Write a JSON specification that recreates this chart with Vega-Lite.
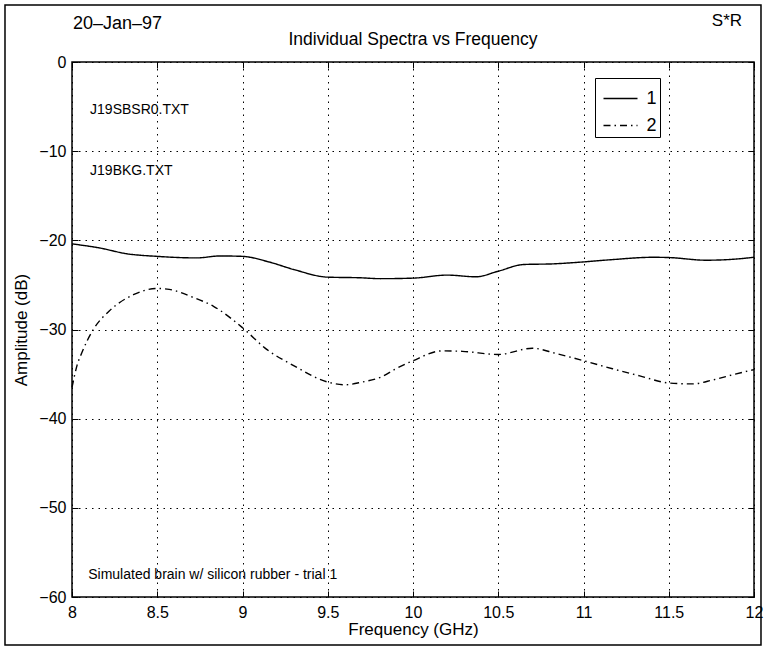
{
  "$schema": "https://vega.github.io/schema/vega-lite/v6.json",
  "autosize": "none",
  "width": 682,
  "height": 535,
  "padding": {"left": 72, "top": 62, "right": 11, "bottom": 50},
  "background": "white",
  "config": {
    "font": "Liberation Sans",
    "view": {"stroke": "black", "strokeWidth": 1.5},
    "axis": {"labelColor": "black", "titleColor": "black", "labelFont": "Liberation Sans", "titleFont": "Liberation Sans", "labelFontSize": 16, "titleFontSize": 17, "titleFontWeight": "normal", "domain": false, "tickColor": "black", "gridColor": "black", "gridDash": [1.5, 5], "gridOpacity": 1, "gridWidth": 1}
  },
  "datasets": {
    "spectra": [
      {"f": 8.0, "amp": -20.4, "series": "1"},
      {"f": 8.16, "amp": -20.85, "series": "1"},
      {"f": 8.32, "amp": -21.5, "series": "1"},
      {"f": 8.5, "amp": -21.8, "series": "1"},
      {"f": 8.73, "amp": -21.97, "series": "1"},
      {"f": 8.87, "amp": -21.75, "series": "1"},
      {"f": 9.0, "amp": -21.8, "series": "1"},
      {"f": 9.16, "amp": -22.45, "series": "1"},
      {"f": 9.3, "amp": -23.27, "series": "1"},
      {"f": 9.5, "amp": -24.13, "series": "1"},
      {"f": 9.69, "amp": -24.2, "series": "1"},
      {"f": 9.81, "amp": -24.3, "series": "1"},
      {"f": 10.0, "amp": -24.24, "series": "1"},
      {"f": 10.2, "amp": -23.9, "series": "1"},
      {"f": 10.37, "amp": -24.09, "series": "1"},
      {"f": 10.5, "amp": -23.46, "series": "1"},
      {"f": 10.65, "amp": -22.71, "series": "1"},
      {"f": 10.82, "amp": -22.64, "series": "1"},
      {"f": 11.0, "amp": -22.42, "series": "1"},
      {"f": 11.17, "amp": -22.16, "series": "1"},
      {"f": 11.41, "amp": -21.9, "series": "1"},
      {"f": 11.5, "amp": -21.93, "series": "1"},
      {"f": 11.72, "amp": -22.23, "series": "1"},
      {"f": 11.88, "amp": -22.12, "series": "1"},
      {"f": 12.0, "amp": -21.9, "series": "1"},
      {"f": 8.0, "amp": -36.5, "series": "2"},
      {"f": 8.03, "amp": -34.0, "series": "2"},
      {"f": 8.06, "amp": -32.5, "series": "2"},
      {"f": 8.125, "amp": -30.0, "series": "2"},
      {"f": 8.22, "amp": -27.9, "series": "2"},
      {"f": 8.36, "amp": -26.1, "series": "2"},
      {"f": 8.5, "amp": -25.4, "series": "2"},
      {"f": 8.57, "amp": -25.5, "series": "2"},
      {"f": 8.71, "amp": -26.4, "series": "2"},
      {"f": 8.83, "amp": -27.4, "series": "2"},
      {"f": 9.0, "amp": -29.8, "series": "2"},
      {"f": 9.14, "amp": -32.2, "series": "2"},
      {"f": 9.3, "amp": -34.05, "series": "2"},
      {"f": 9.5, "amp": -35.9, "series": "2"},
      {"f": 9.6, "amp": -36.2, "series": "2"},
      {"f": 9.7, "amp": -35.9, "series": "2"},
      {"f": 9.81, "amp": -35.35, "series": "2"},
      {"f": 9.9, "amp": -34.4, "series": "2"},
      {"f": 10.0, "amp": -33.5, "series": "2"},
      {"f": 10.17, "amp": -32.4, "series": "2"},
      {"f": 10.29, "amp": -32.45, "series": "2"},
      {"f": 10.5, "amp": -32.8, "series": "2"},
      {"f": 10.7, "amp": -32.1, "series": "2"},
      {"f": 10.84, "amp": -32.7, "series": "2"},
      {"f": 11.0, "amp": -33.5, "series": "2"},
      {"f": 11.17, "amp": -34.4, "series": "2"},
      {"f": 11.33, "amp": -35.2, "series": "2"},
      {"f": 11.5, "amp": -36.0, "series": "2"},
      {"f": 11.64, "amp": -36.1, "series": "2"},
      {"f": 11.76, "amp": -35.65, "series": "2"},
      {"f": 11.89, "amp": -35.0, "series": "2"},
      {"f": 12.0, "amp": -34.5, "series": "2"}
    ],
    "one": [{}]
  },
  "data": {"name": "spectra"},
  "resolve": {"axis": {"x": "independent", "y": "independent"}},
  "layer": [
    {
      "mark": {"type": "line", "color": "black", "strokeWidth": 1.4, "interpolate": "monotone"},
      "encoding": {
        "x": {"field": "f", "type": "quantitative", "scale": {"domain": [8, 12], "nice": false, "zero": false},
          "axis": {"orient": "bottom", "values": [8, 8.5, 9, 9.5, 10, 10.5, 11, 11.5, 12], "format": "~g", "title": "Frequency (GHz)", "titlePadding": 1, "tickSize": -6, "labelPadding": 13, "grid": true, "labelFlush": false}},
        "y": {"field": "amp", "type": "quantitative", "scale": {"domain": [-60, 0], "nice": false, "zero": false},
          "axis": {"orient": "left", "values": [0, -10, -20, -30, -40, -50, -60], "title": "Amplitude (dB)", "titlePadding": 8, "tickSize": -6, "labelPadding": 12, "grid": true, "labelFlush": false}},
        "strokeDash": {"field": "series", "type": "nominal", "scale": {"domain": ["1", "2"], "range": [[1, 0], [7, 4, 1.5, 4]]},
          "legend": {"title": null, "orient": "none", "legendX": 523, "legendY": 16, "strokeColor": "black", "padding": 2.5, "labelFontSize": 18, "labelColor": "black", "labelFont": "Liberation Sans", "symbolType": "stroke", "symbolSize": 1156, "symbolStrokeWidth": 1.4, "symbolStrokeColor": "black", "symbolOffset": 5, "rowPadding": -14, "labelOffset": 8}}
      }
    },
    {
      "mark": {"type": "line", "opacity": 0},
      "encoding": {
        "x": {"field": "f", "type": "quantitative", "axis": {"orient": "top", "values": [8, 8.5, 9, 9.5, 10, 10.5, 11, 11.5, 12], "labels": false, "title": null, "tickSize": -6, "grid": false}},
        "y": {"field": "amp", "type": "quantitative", "axis": {"orient": "right", "values": [0, -10, -20, -30, -40, -50, -60], "labels": false, "title": null, "tickSize": -6, "grid": false}},
        "detail": {"field": "series"}
      }
    },
    {
      "data": {"name": "one"},
      "mark": {"type": "text", "align": "center", "baseline": "middle", "fontSize": 17.5, "font": "Liberation Sans", "color": "black"},
      "encoding": {"x": {"datum": 10.0, "axis": null}, "y": {"datum": 2.45, "axis": null}, "text": {"value": "Individual Spectra vs Frequency"}}
    },
    {
      "data": {"name": "one"},
      "mark": {"type": "text", "align": "left", "baseline": "middle", "fontSize": 14, "font": "Liberation Sans", "color": "black"},
      "encoding": {"x": {"datum": 8.106, "axis": null}, "y": {"datum": -5.4, "axis": null}, "text": {"value": "J19SBSR0.TXT"}}
    },
    {
      "data": {"name": "one"},
      "mark": {"type": "text", "align": "left", "baseline": "middle", "fontSize": 14, "font": "Liberation Sans", "color": "black"},
      "encoding": {"x": {"datum": 8.106, "axis": null}, "y": {"datum": -12.2, "axis": null}, "text": {"value": "J19BKG.TXT"}}
    },
    {
      "data": {"name": "one"},
      "mark": {"type": "text", "align": "left", "baseline": "middle", "fontSize": 14, "font": "Liberation Sans", "color": "black"},
      "encoding": {"x": {"datum": 8.095, "axis": null}, "y": {"datum": -57.5, "axis": null}, "text": {"value": "Simulated brain w/ silicon rubber - trial 1"}}
    },
    {
      "data": {"name": "one"},
      "mark": {"type": "text", "align": "left", "baseline": "middle", "fontSize": 18, "font": "Liberation Sans", "color": "black"},
      "encoding": {"x": {"datum": 8.006, "axis": null}, "y": {"datum": 4.3, "axis": null}, "text": {"value": "20–Jan–97"}}
    },
    {
      "data": {"name": "one"},
      "mark": {"type": "text", "align": "right", "baseline": "middle", "fontSize": 17, "font": "Liberation Sans", "color": "black"},
      "encoding": {"x": {"datum": 11.93, "axis": null}, "y": {"datum": 4.6, "axis": null}, "text": {"value": "S*R"}}
    },
    {
      "data": {"name": "one"},
      "mark": {"type": "rect", "fill": null, "fillOpacity": 0, "stroke": "black", "strokeWidth": 1.5},
      "encoding": {"x": {"datum": 7.607, "axis": null}, "x2": {"datum": 12.041}, "y": {"datum": 6.39, "axis": null}, "y2": {"datum": -65.38}}
    }
  ]
}
